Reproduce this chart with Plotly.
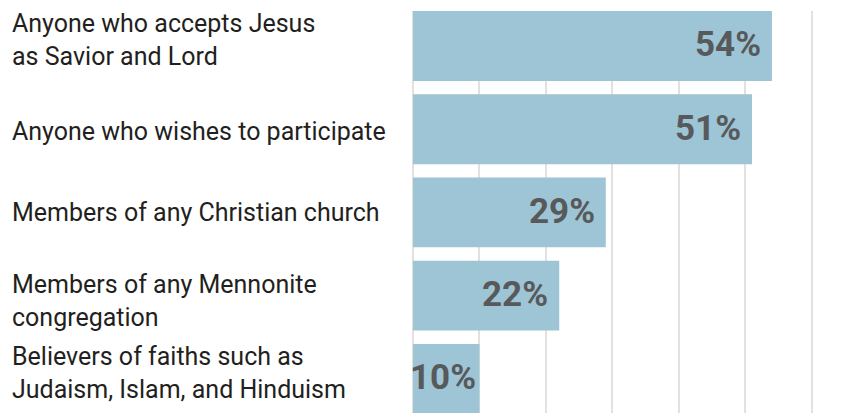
import plotly.graph_objects as go

# Survey responses: who may take part in communion
categories = [
    "Anyone who accepts Jesus as Savior and Lord",
    "Anyone who wishes to participate",
    "Members of any Christian church",
    "Members of any Mennonite congregation",
    "Believers of faiths such as Judaism, Islam, and Hinduism",
]
label_lines = [
    "Anyone who accepts Jesus<br>as Savior and Lord",
    "Anyone who wishes to participate",
    "Members of any Christian church",
    "Members of any Mennonite<br>congregation",
    "Believers of faiths such as<br>Judaism, Islam, and Hinduism",
]
values = [54, 51, 29, 22, 10]
grid_ticks = [0, 10, 20, 30, 40, 50, 60]

BAR = "#9dc5d5"
VALUE_TXT = "#58595b"
LABEL_TXT = "#231f20"
GRID = "#e4e0de"

W, H = 867, 413
ML, MT = 413, 11
plot_w = W - ML

fig = go.Figure(
    go.Bar(
        x=values,
        y=categories,
        orientation="h",
        marker=dict(color=BAR, line=dict(width=0)),
        hoverinfo="skip",
    )
)

# value labels at the inner end of each bar
for cat, v in zip(categories, values):
    fig.add_annotation(
        x=v, y=cat, xref="x", yref="y",
        text=f"<b>{v}%</b>", showarrow=False,
        xanchor="right", yanchor="middle",
        xshift=-9 if v > 15 else -1, yshift=1,
        font=dict(family="Roboto", size=35, color=VALUE_TXT),
    )

# category labels, left aligned at the page edge
label_shift = [6, -2, 0, -5, 6]
for cat, txt, dy in zip(categories, label_lines, label_shift):
    fig.add_annotation(
        x=(10 - ML) / plot_w, y=cat, xref="paper", yref="y",
        text=txt, showarrow=False, align="left",
        xanchor="left", yanchor="middle", yshift=dy,
        font=dict(family="Roboto", size=25, color=LABEL_TXT),
    )

fig.update_layout(
    width=W, height=H,
    margin=dict(l=ML, r=0, t=MT, b=0, pad=0),
    paper_bgcolor="white", plot_bgcolor="white",
    bargap=0.16, showlegend=False,
    xaxis=dict(
        range=[0, 68.3], tickvals=grid_ticks, showticklabels=False,
        showgrid=True, gridcolor=GRID, gridwidth=1.5,
        zeroline=True, zerolinecolor=GRID, zerolinewidth=1.5,
        showline=False, fixedrange=True,
    ),
    yaxis=dict(
        type="category", categoryorder="array", categoryarray=categories,
        range=[4.41, -0.42], showticklabels=False, showgrid=False,
        zeroline=False, showline=False, ticks="", fixedrange=True,
    ),
)

fig.write_html("out.html", config={"displayModeBar": False})
